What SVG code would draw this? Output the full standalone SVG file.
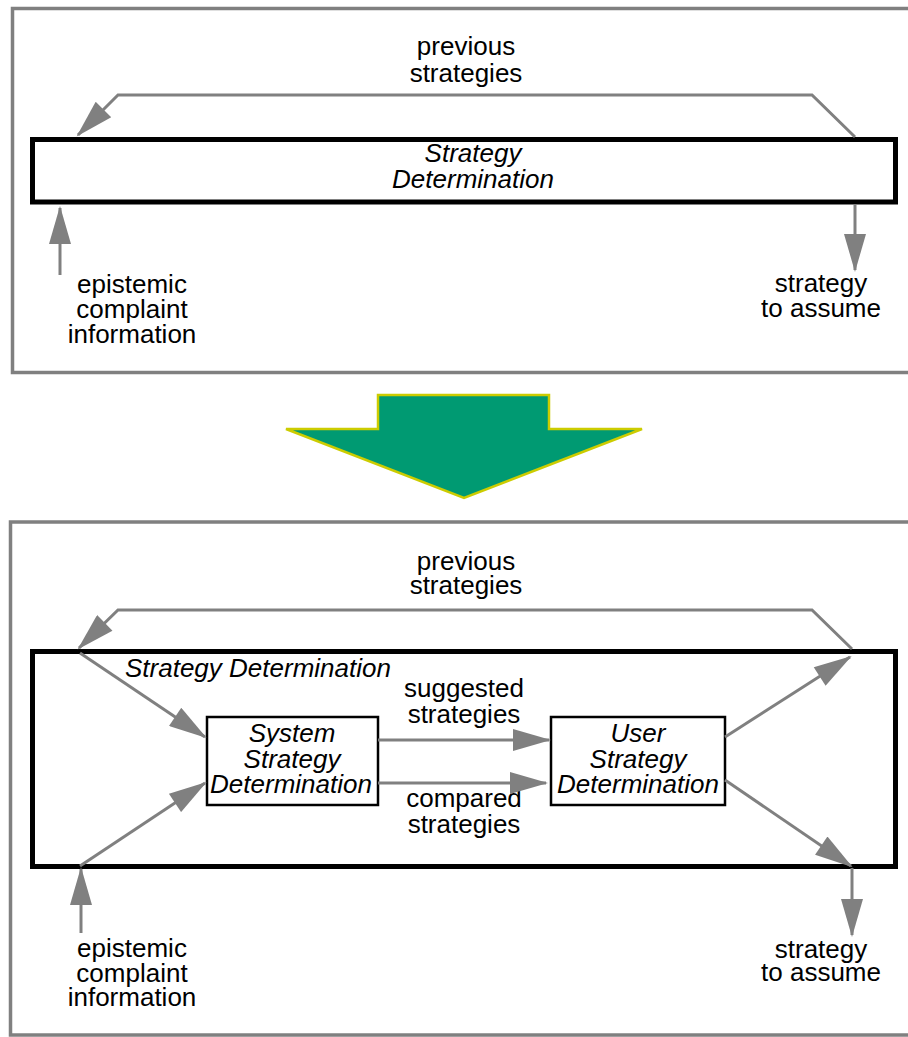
<svg xmlns="http://www.w3.org/2000/svg" width="908" height="1037" viewBox="0 0 908 1037">
<style>
.frame{fill:none;stroke:#808080;stroke-width:3.5}
.big{fill:#fff;stroke:#000;stroke-width:5}
.box{fill:#fff;stroke:#000;stroke-width:2.5}
.c{fill:none;stroke:#808080;stroke-width:3}
text{font-family:"Liberation Sans",Arial,Helvetica,sans-serif;font-size:26px;fill:#000;text-anchor:middle}
.it{font-style:italic}
</style>
<defs>
<marker id="ah" markerUnits="userSpaceOnUse" markerWidth="40" markerHeight="22" viewBox="0 0 38 22" refX="36" refY="11" orient="auto">
<path d="M0,0 L38,11 L0,22 z" fill="#808080"/>
</marker>
</defs>

<rect class="frame" x="12.5" y="8.5" width="910" height="364"/>
<rect class="frame" x="10.5" y="522" width="910" height="513"/>

<g id="top-strategy-determination">
<rect class="big" x="32.5" y="139.5" width="863" height="62.5"/>
<text class="it" x="473" y="162">Strategy</text>
<text class="it" x="473" y="188">Determination</text>
</g>

<g id="transform-arrow">
<polygon points="378,395 549,395 549,429 642,429 464,498 286,429 378,429" fill="#009a72" stroke="#cccc00" stroke-width="2.5"/>
</g>

<g id="bottom-strategy-determination">
<rect class="big" x="32.5" y="651.5" width="863" height="215"/>
<text class="it" x="125" y="677" style="text-anchor:start">Strategy Determination</text>
</g>

<g id="system-strategy-determination">
<rect class="box" x="207" y="717" width="171" height="88"/>
<text class="it" x="292" y="742">System</text>
<text class="it" x="292" y="768">Strategy</text>
<text class="it" x="291" y="793">Determination</text>
</g>

<g id="user-strategy-determination">
<rect class="box" x="551" y="717" width="174" height="88"/>
<text class="it" x="638" y="742">User</text>
<text class="it" x="638" y="768">Strategy</text>
<text class="it" x="638" y="793">Determination</text>
</g>

<g id="labels">
<text x="466" y="55">previous</text>
<text x="466" y="82">strategies</text>
<text x="132" y="293">epistemic</text>
<text x="132" y="318">complaint</text>
<text x="132" y="343">information</text>
<text x="821" y="292">strategy</text>
<text x="821" y="317">to assume</text>

<text x="466" y="570">previous</text>
<text x="466" y="594">strategies</text>
<text x="464" y="697">suggested</text>
<text x="464" y="723">strategies</text>
<text x="464" y="807">compared</text>
<text x="464" y="833">strategies</text>
<text x="132" y="957">epistemic</text>
<text x="132" y="982">complaint</text>
<text x="132" y="1006">information</text>
<text x="821" y="958">strategy</text>
<text x="821" y="981">to assume</text>
</g>

<g id="connectors">
<polyline class="c" points="855,137 812,95 118,95 78,135" marker-end="url(#ah)"/>
<line class="c" x1="60" y1="275" x2="60" y2="208" marker-end="url(#ah)"/>
<line class="c" x1="855" y1="205" x2="855" y2="270" marker-end="url(#ah)"/>

<polyline class="c" points="852,649 812,610 118,610 79,648" marker-end="url(#ah)"/>
<line class="c" x1="80" y1="653" x2="205" y2="737" marker-end="url(#ah)"/>
<line class="c" x1="80" y1="866" x2="205" y2="783" marker-end="url(#ah)"/>
<line class="c" x1="378" y1="740" x2="549" y2="740" marker-end="url(#ah)"/>
<line class="c" x1="378" y1="783" x2="546" y2="783" marker-end="url(#ah)"/>
<line class="c" x1="725" y1="737" x2="850" y2="657" marker-end="url(#ah)"/>
<line class="c" x1="725" y1="780" x2="851" y2="866" marker-end="url(#ah)"/>
<line class="c" x1="81" y1="933" x2="81" y2="869" marker-end="url(#ah)"/>
<line class="c" x1="852" y1="868" x2="852" y2="935" marker-end="url(#ah)"/>
</g>
</svg>
